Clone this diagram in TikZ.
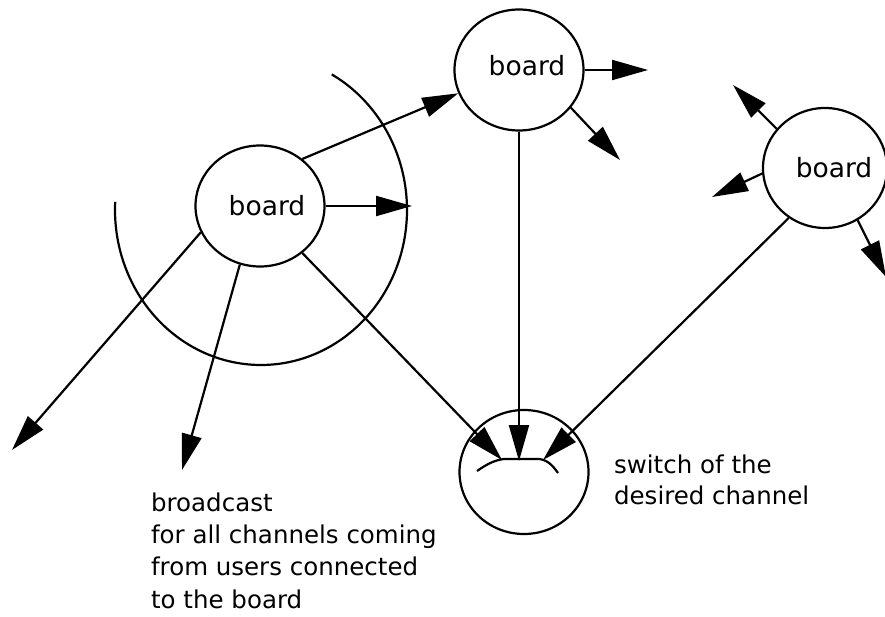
\documentclass[tikz,border=0pt]{standalone}
\usepackage{fontspec}
\setmainfont{DejaVu Sans}
\usetikzlibrary{arrows.meta,shapes.geometric}
\begin{document}
\begin{tikzpicture}[x=1pt,y=-1pt,
  line width=2.2pt,
  unit/.style={draw, ellipse, inner sep=0pt, minimum width=129pt, minimum height=121pt},
  conn/.style={-{Triangle[length=36pt,width=20pt]}},
  txt/.style={font=\fontsize{24.5}{32.3}\selectfont, inner sep=0pt},
  lbl/.style={font=\fontsize{26.5}{30}\selectfont, inner sep=0pt},
]
\clip (0,0) rectangle (885,617);

% boards and the switch
\node[unit] (b1) at (260,206) {};
\node[unit] (b2) at (519,70) {};
\node[unit, minimum width=124pt, minimum height=120pt] (b3) at (825,168) {};
\node[unit, minimum width=129pt, minimum height=124pt] (sw) at (524,472) {};

\node[lbl, xshift=7pt] (b1t) at (b1) {board};
\node[lbl, xshift=8pt, yshift=4pt] (b2t) at (b2) {board};
\node[lbl, xshift=9pt] (b3t) at (b3) {board};

% coverage arc around the left board
\draw plot[domain=-61:183, samples=90, smooth]
  ({261+146*cos(\x)}, {210+155*sin(\x)});

% selector inside the switch
\draw (477,471) .. controls (487,464) and (495,460) .. (504,459)
  -- (539,459) .. controls (548,460) and (553,466) .. (558,473);

% free ends of the arrows
\coordinate (b1r) at (412,206);
\coordinate (u1) at (12,450);
\coordinate (u2) at (182,470);
\coordinate (b2r) at (648,70);
\coordinate (b2d) at (620,160);
\coordinate (b3ul) at (733,85);
\coordinate (b3l) at (712,197);
\coordinate (b3dr) at (886,277);
\coordinate (tl) at (502,460);
\coordinate (tc) at (519,461);
\coordinate (tr) at (543,460);

% connections
\draw[conn] (b1.0) -- (b1r);
\draw[conn] (b1.48) -- (b2.201);
\draw[conn] (b1.204) -- (u1);
\draw[conn] (b1.251) -- (u2);
\draw[conn] (b1.312) -- (tl);
\draw[conn] (b2.0) -- (b2r);
\draw[conn] (b2.324) -- (b2d);
\draw[conn] (b2.south) -- (tc);
\draw[conn] (b3.141) -- (b3ul);
\draw[conn] (b3.185) -- (b3l);
\draw[conn] (b3.302) -- (b3dr);
\draw[conn] (b3.234) -- (tr);

% captions
\node[txt, anchor=base west, align=left] (cap1) at (150,608)
  {broadcast\\for all channels coming\\from users connected\\to the board};
\node[txt, anchor=base west, align=left, font=\fontsize{24.5}{31}\selectfont] (cap2) at (613,504)
  {switch of the\\desired channel};
\end{tikzpicture}
\end{document}
